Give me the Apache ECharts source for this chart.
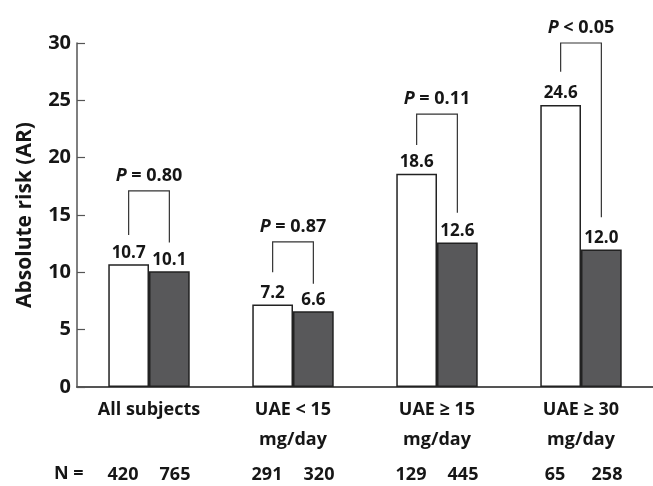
<!DOCTYPE html>
<html><head><meta charset="utf-8">
<script src="https://cdn.jsdelivr.net/npm/echarts@6/dist/echarts.min.js"></script>
<style>html,body{margin:0;padding:0;background:#fff}#c{width:653px;height:486px}</style>
</head><body><div id="c"></div>
<script>
const categories = ['All subjects', 'UAE < 15\nmg/day', 'UAE ≥ 15\nmg/day', 'UAE ≥ 30\nmg/day'];
const arGroupA = [10.7, 7.2, 18.6, 24.6];
const arGroupB = [10.1, 6.6, 12.6, 12.0];
const nGroupA = [420, 291, 129, 65];
const nGroupB = [765, 320, 445, 258];
const pLabels = ['= 0.80', '= 0.87', '= 0.11', '< 0.05'];
const bracketTop = [17.1, 12.65, 23.8, 30.0];
const bracketLeftEnd = [13.25, 10.0, 21.1, 27.5];
const bracketRightEnd = [12.6, 9.0, 15.2, 14.8];
const yMin = 0, yMax = 30, yInterval = 5;

const FONT = '"Open Sans"';
const TXT = '#161616';
const BAR_FRAC = 0.5655;

const chart = echarts.init(document.getElementById('c'), null, {renderer: 'canvas'});
const valueLabel = {show: true, position: 'top', distance: 3, color: TXT, fontFamily: FONT, fontWeight: 'bold', fontSize: 17, formatter: p => p.value.toFixed(1)};

chart.setOption({
  animation: false,
  backgroundColor: '#fff',
  grid: {left: 77, top: 43, width: 580, height: 344, containLabel: false},
  xAxis: {
    type: 'category', data: categories,
    axisLine: {lineStyle: {color: '#555', width: 2}},
    axisTick: {inside: true, length: 5, lineStyle: {color: '#555', width: 1.2}},
    axisLabel: {color: TXT, fontFamily: FONT, fontWeight: 'bold', fontSize: 18, lineHeight: 30, margin: 8, interval: 0}
  },
  yAxis: {
    type: 'value', min: yMin, max: yMax, interval: yInterval,
    name: 'Absolute risk (AR)', nameLocation: 'middle', nameGap: 41,
    nameTextStyle: {color: TXT, fontFamily: FONT, fontWeight: 'bold', fontSize: 21},
    axisLine: {show: true, lineStyle: {color: '#555', width: 1.5}},
    axisTick: {show: true, inside: true, length: 8, lineStyle: {color: '#555', width: 1.2}},
    splitLine: {show: false},
    axisLabel: {color: TXT, fontFamily: FONT, fontWeight: 'bold', fontSize: 20, margin: 6}
  },
  graphic: [{type: 'text', left: 54, top: 465, style: {text: 'N =', font: 'bold 18px "Open Sans"', fill: TXT}}],
  series: [
    {type: 'bar', data: arGroupA, barGap: '0%', barCategoryGap: ((1 - BAR_FRAC) * 100).toFixed(2) + '%',
     itemStyle: {color: '#fff', borderColor: '#222', borderWidth: 1.5}, label: valueLabel},
    {type: 'bar', data: arGroupB,
     itemStyle: {color: '#58585a', borderColor: '#222', borderWidth: 1.5}, label: valueLabel},
    {type: 'custom', clip: false, silent: true,
     data: categories.map((c, i) => [i, bracketTop[i], bracketLeftEnd[i], bracketRightEnd[i]]),
     renderItem: function (params, api) {
       const i = api.value(0);
       const top = api.coord([i, api.value(1)]);
       const lb = api.coord([i, api.value(2)]);
       const rb = api.coord([i, api.value(3)]);
       const bw = api.size([1, 0])[0];
       const off = bw * BAR_FRAC / 4;
       const xl = top[0] - off, xr = top[0] + off;
       const base = {fontFamily: FONT, fontWeight: 'bold', fontSize: 18, fill: TXT, color: TXT};
       return {type: 'group', children: [
         {type: 'polyline', shape: {points: [[xl, lb[1]], [xl, top[1]], [xr, top[1]], [xr, rb[1]]]},
          style: {stroke: '#333', lineWidth: 1.2, fill: null}},
         {type: 'text', x: top[0], y: top[1] - 6,
          style: {text: '{i|P} {b|' + pLabels[i] + '}', align: 'center', verticalAlign: 'bottom',
                  font: 'bold 18px "Open Sans"', fill: TXT,
                  rich: {i: Object.assign({}, base, {fontStyle: 'italic'}), b: base}}}
       ]};
     }},
    {type: 'custom', clip: false, silent: true,
     data: categories.map((c, i) => [i, nGroupA[i], nGroupB[i]]),
     renderItem: function (params, api) {
       const i = api.value(0);
       const b = api.coord([i, yMin]);
       const st = t => ({text: String(t), font: 'bold 18px "Open Sans"', fill: TXT, align: 'center', verticalAlign: 'middle'});
       return {type: 'group', children: [
         {type: 'text', x: b[0] - 26, y: b[1] + 88, style: st(api.value(1))},
         {type: 'text', x: b[0] + 26, y: b[1] + 88, style: st(api.value(2))}
       ]};
     }}
  ]
});
</script>
</body></html>
